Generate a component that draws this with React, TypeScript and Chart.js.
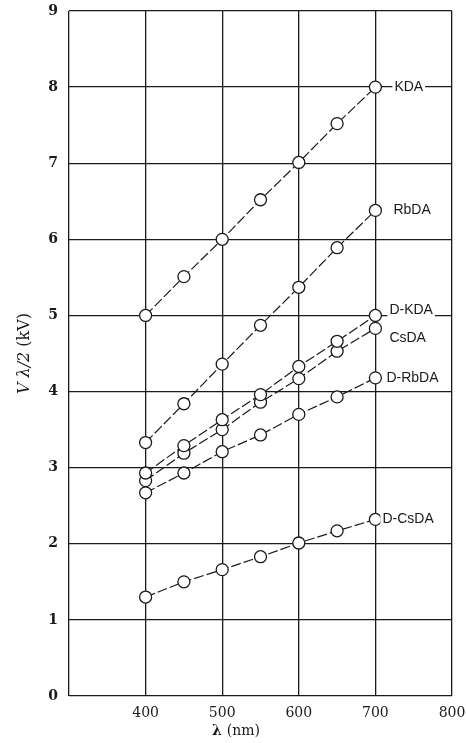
import React, { useEffect, useRef } from "react";
import { Chart, registerables } from "chart.js";

Chart.register(...registerables);

const wavelengths = [400, 450, 500, 550, 600, 650, 700];
const seriesNames = ["KDA", "RbDA", "D-KDA", "CsDA", "D-RbDA", "D-CsDA"];
const kda = [5.0, 5.51, 6.0, 6.52, 7.01, 7.52, 8.0];
const rbda = [3.33, 3.84, 4.36, 4.87, 5.37, 5.89, 6.38];
const dkda = [2.93, 3.29, 3.63, 3.96, 4.33, 4.66, 5.0];
const csda = [2.83, 3.19, 3.5, 3.86, 4.17, 4.53, 4.83];
const drbda = [2.67, 2.93, 3.21, 3.43, 3.7, 3.93, 4.18];
const dcsda = [1.3, 1.5, 1.66, 1.83, 2.01, 2.17, 2.32];
const xTicks = [400, 500, 600, 700, 800];
const yTicks = [0, 1, 2, 3, 4, 5, 6, 7, 8, 9];

const allSeries = [kda, rbda, dkda, csda, drbda, dcsda];
// label offsets (pixels) relative to last point
const labelOffsets: [number, number][] = [
  [19, 0],
  [18, 0],
  [14, -5],
  [14, 10],
  [11, 0],
  [7, 0],
];

const INK = "#1a1a1a";
const SERIF = "'DejaVu Serif', 'Liberation Serif', serif";

export default function App() {
  const ref = useRef<HTMLCanvasElement | null>(null);
  useEffect(() => {
    const canvas = ref.current;
    if (!canvas) return;
    const labelPlugin = {
      id: "seriesLabels",
      afterDatasetsDraw(chart: any) {
        const ctx = chart.ctx;
        ctx.save();
        ctx.font = "14px 'Liberation Sans', Arial, sans-serif";
        ctx.textBaseline = "middle";
        ctx.textAlign = "left";
        seriesNames.forEach((name, i) => {
          const meta = chart.getDatasetMeta(i);
          const last = meta.data[meta.data.length - 1];
          const x = last.x + labelOffsets[i][0];
          const y = last.y + labelOffsets[i][1];
          const w = ctx.measureText(name).width;
          ctx.fillStyle = "#ffffff";
          ctx.fillRect(x - 2, y - 7, w + 4, 14);
          ctx.fillStyle = INK;
          ctx.fillText(name, x, y);
        });
        const area = chart.chartArea;
        ctx.fillStyle = INK;
        ctx.textBaseline = "middle";
        // y title
        ctx.save();
        ctx.translate(25, (area.top + area.bottom) / 2);
        ctx.rotate(-Math.PI / 2);
        const p1 = "V λ/2 ";
        const p2 = "(kV)";
        ctx.font = `italic 16px ${SERIF}`;
        const w1 = ctx.measureText(p1).width;
        ctx.font = `16px ${SERIF}`;
        const w2 = ctx.measureText(p2).width;
        const start = -(w1 + w2) / 2;
        ctx.textAlign = "left";
        ctx.font = `italic 16px ${SERIF}`;
        ctx.fillText(p1, start, 0);
        ctx.font = `16px ${SERIF}`;
        ctx.fillText(p2, start + w1, 0);
        ctx.restore();
        // x title
        const q1 = "λ ";
        const q2 = "(nm)";
        ctx.font = `bold 14px ${SERIF}`;
        const v1 = ctx.measureText(q1).width;
        ctx.font = `14px ${SERIF}`;
        const v2 = ctx.measureText(q2).width;
        const cx = 236;
        const sx = cx - (v1 + v2) / 2;
        ctx.textAlign = "left";
        ctx.font = `bold 14px ${SERIF}`;
        ctx.fillText(q1, sx, 731);
        ctx.font = `14px ${SERIF}`;
        ctx.fillText(q2, sx + v1, 731);
        ctx.restore();
      },
    };
    const chart = new Chart(canvas, {
      type: "line",
      data: {
        datasets: allSeries.map((vals, i) => ({
          label: seriesNames[i],
          data: vals.map((v, j) => ({ x: wavelengths[j], y: v })),
          borderColor: INK,
          borderWidth: 1.2,
          borderDash: [10, 3],
          backgroundColor: "#ffffff",
          pointBackgroundColor: "#ffffff",
          pointBorderColor: INK,
          pointBorderWidth: 1.3,
          pointRadius: 6,
          fill: false,
          tension: 0,
        })),
      },
      options: {
        animation: false,
        responsive: false,
        events: [],
        layout: { padding: { left: 0, top: 11, right: 14, bottom: 0 } },
        plugins: { legend: { display: false }, tooltip: { enabled: false } },
        scales: {
          x: {
            type: "linear",
            min: 300,
            max: 800,
            afterBuildTicks: (scale: any) => {
              scale.ticks = [300, ...xTicks].map((v) => ({ value: v }));
            },
            afterFit: (scale: any) => {
              scale.height = 47;
              scale.paddingLeft = 0;
              scale.paddingRight = 0;
            },
            grid: { color: INK, lineWidth: 1.3, drawTicks: false },
            border: { display: false },
            ticks: {
              padding: 9,
              color: INK,
              maxRotation: 0,
              font: { family: SERIF, size: 14 },
              callback: (v: any) => (v === 300 ? "" : String(v)),
            },
          },
          y: {
            type: "linear",
            min: 0,
            max: 9,
            afterBuildTicks: (scale: any) => {
              scale.ticks = yTicks.map((v) => ({ value: v }));
            },
            afterFit: (scale: any) => {
              scale.width = 69;
              scale.paddingTop = 0;
              scale.paddingBottom = 0;
            },
            grid: { color: INK, lineWidth: 1.3, drawTicks: false },
            border: { display: false },
            ticks: {
              padding: 11,
              color: INK,
              font: { family: SERIF, size: 14, weight: "bold" },
            },
          },
        },
      },
      plugins: [labelPlugin],
    } as any);
    return () => chart.destroy();
  }, []);
  return (
    <div style={{ position: "fixed", left: 0, top: 0, width: 466, height: 743, background: "#fff" }}>
      <canvas ref={ref} width={466} height={743} style={{ width: 466, height: 743, display: "block" }} />
    </div>
  );
}
